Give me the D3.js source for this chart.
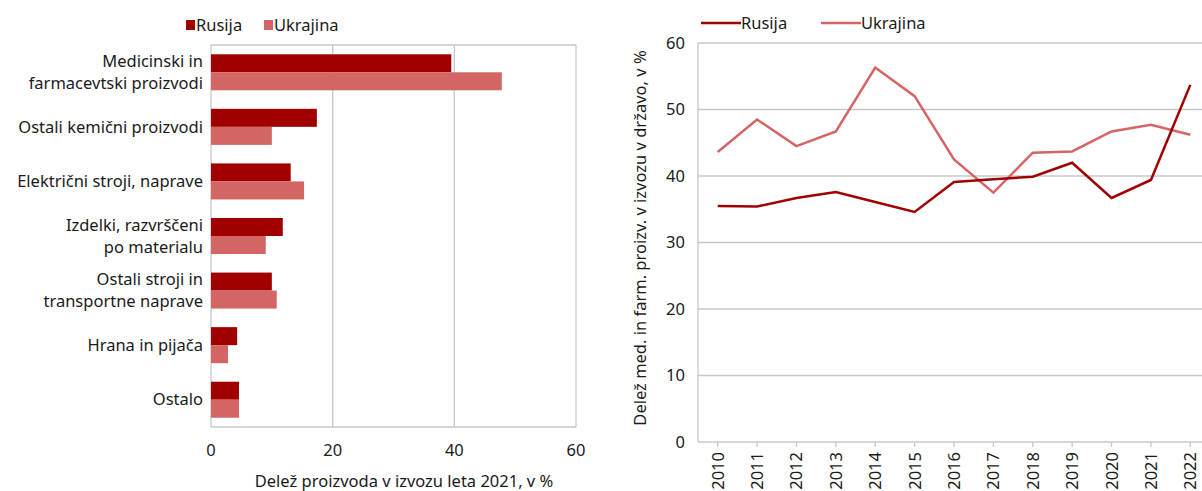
<!DOCTYPE html>
<html>
<head>
<meta charset="utf-8">
<script src="https://cdn.jsdelivr.net/npm/d3@7"></script>
<style>
  body { margin: 0; background: #fff; }
  svg { font-family: "Noto Sans", sans-serif; }
</style>
</head>
<body>
<div id="chart"></div>
<script>
// Left chart data
const categories = [
    ["Medicinski in", "farmacevtski proizvodi"],
    ["Ostali kemični proizvodi"],
    ["Električni stroji, naprave"],
    ["Izdelki, razvrščeni", "po materialu"],
    ["Ostali stroji in", "transportne naprave"],
    ["Hrana in pijača"],
    ["Ostalo"]
];
const barRusija = [39.5, 17.4, 13.1, 11.8, 10.0, 4.3, 4.6];
const barUkrajina = [47.8, 10.0, 15.3, 9.0, 10.8, 2.8, 4.6];
const barTicks = [0, 20, 40, 60];

// Right chart data
const years = ["2010", "2011", "2012", "2013", "2014", "2015", "2016", "2017", "2018", "2019", "2020", "2021", "2022"];
const lineRusija = [35.5, 35.4, 36.7, 37.6, 36.1, 34.6, 39.1, 39.5, 39.9, 42.0, 36.7, 39.4, 53.7];
const lineUkrajina = [43.6, 48.5, 44.5, 46.7, 56.3, 52.0, 42.5, 37.5, 43.5, 43.7, 46.7, 47.7, 46.2];
const lineTicks = [0, 10, 20, 30, 40, 50, 60];

const colRus = "#a00000";
const colUkr = "#d46565";
const gridCol = "#c8c8c8";
const fs = 16.5;
const txtCol = "#1a1a1a";

const svg = d3.select("#chart").append("svg")
    .attr("width", 1202).attr("height", 491);

// ---------- Left: horizontal bars ----------
const L = { left: 211, right: 576, top: 45, bottom: 427 };
const x = d3.scaleLinear().domain([0, 60]).range([L.left, L.right]);
const y = d3.scaleBand().domain(d3.range(categories.length)).range([L.top, L.bottom]).paddingInner(0.34).paddingOuter(0.17);

const gl = svg.append("g");
gl.selectAll(".vgrid").data(barTicks.slice(1)).enter().append("line")
    .attr("x1", d => x(d)).attr("x2", d => x(d))
    .attr("y1", L.top).attr("y2", L.bottom)
    .attr("stroke", gridCol).attr("stroke-width", 1.3);
[L.top, L.bottom].forEach(yy => {
    gl.append("line").attr("x1", L.left).attr("x2", L.right).attr("y1", yy).attr("y2", yy)
        .attr("stroke", gridCol).attr("stroke-width", 1.3);
});
gl.append("line").attr("x1", L.left).attr("x2", L.left).attr("y1", L.top).attr("y2", L.bottom)
    .attr("stroke", gridCol).attr("stroke-width", 1.3);

const bh = y.bandwidth() / 2;
gl.selectAll(".bR").data(barRusija).enter().append("rect")
    .attr("x", x(0)).attr("y", (d, i) => y(i))
    .attr("width", d => x(d) - x(0)).attr("height", bh)
    .attr("fill", colRus);
gl.selectAll(".bU").data(barUkrajina).enter().append("rect")
    .attr("x", x(0)).attr("y", (d, i) => y(i) + bh)
    .attr("width", d => x(d) - x(0)).attr("height", bh)
    .attr("fill", colUkr);

// category labels
categories.forEach((lines, i) => {
    const cy = y(i) + y.bandwidth() / 2;
    const t = gl.append("text").attr("text-anchor", "end")
        .attr("font-size", fs).attr("fill", txtCol);
    lines.forEach((ln, j) => {
        t.append("tspan").attr("x", 203)
            .attr("y", cy + (j - (lines.length - 1) / 2) * 22)
            .attr("dy", "0.35em").text(ln);
    });
});

gl.selectAll(".xt").data(barTicks).enter().append("text")
    .attr("x", d => x(d)).attr("y", 456).attr("text-anchor", "middle")
    .attr("font-size", fs).attr("fill", txtCol).text(d => d);
gl.append("text").attr("x", 404).attr("y", 487).attr("text-anchor", "middle")
    .attr("font-size", fs).attr("fill", txtCol)
    .text("Delež proizvoda v izvozu leta 2021, v %");

// left legend
const legL = [["Rusija", colRus, 186], ["Ukrajina", colUkr, 264]];
legL.forEach(([name, c, lx]) => {
    gl.append("rect").attr("x", lx).attr("y", 20).attr("width", 9).attr("height", 10).attr("fill", c);
    gl.append("text").attr("x", lx + 10).attr("y", 25).attr("dy", "0.35em")
        .attr("font-size", fs).attr("fill", txtCol).text(name);
});

// ---------- Right: lines ----------
const R = { left: 698, right: 1210, top: 43, bottom: 442 };
const xr = d3.scalePoint().domain(years).range([R.left, R.right]).padding(0.5);
const yr = d3.scaleLinear().domain([0, 60]).range([R.bottom, R.top]);

const gr = svg.append("g");
gr.selectAll(".hgrid").data(lineTicks).enter().append("line")
    .attr("x1", R.left).attr("x2", 1202)
    .attr("y1", d => yr(d)).attr("y2", d => yr(d))
    .attr("stroke", gridCol).attr("stroke-width", 1.3);
gr.append("line").attr("x1", R.left).attr("x2", R.left).attr("y1", R.top).attr("y2", R.bottom)
    .attr("stroke", gridCol).attr("stroke-width", 1.3);
gr.selectAll(".xtick").data(years).enter().append("line")
    .attr("x1", d => xr(d)).attr("x2", d => xr(d))
    .attr("y1", R.bottom).attr("y2", R.bottom + 5)
    .attr("stroke", gridCol).attr("stroke-width", 1.3);

gr.selectAll(".yt").data(lineTicks).enter().append("text")
    .attr("x", 685).attr("y", d => yr(d)).attr("dy", "0.35em").attr("text-anchor", "end")
    .attr("font-size", fs).attr("fill", txtCol).text(d => d);
gr.selectAll(".yl").data(years).enter().append("text")
    .attr("transform", d => `translate(${xr(d) + 6},452) rotate(-90)`)
    .attr("text-anchor", "end")
    .attr("font-size", fs).attr("fill", txtCol).text(d => d);
gr.append("text")
    .attr("transform", "translate(646,238) rotate(-90)")
    .attr("text-anchor", "middle")
    .attr("font-size", fs).attr("fill", txtCol)
    .text("Delež med. in farm. proizv. v izvozu v državo, v %");

const line = d3.line().x((d, i) => xr(years[i])).y(d => yr(d));
gr.append("path").datum(lineUkrajina).attr("d", line)
    .attr("fill", "none").attr("stroke", colUkr).attr("stroke-width", 2.5);
gr.append("path").datum(lineRusija).attr("d", line)
    .attr("fill", "none").attr("stroke", colRus).attr("stroke-width", 2.5);

// right legend
const legR = [["Rusija", colRus, 701], ["Ukrajina", colUkr, 821]];
legR.forEach(([name, c, lx]) => {
    gr.append("line").attr("x1", lx).attr("x2", lx + 40).attr("y1", 23).attr("y2", 23)
        .attr("stroke", c).attr("stroke-width", 2.5);
    gr.append("text").attr("x", lx + 40).attr("y", 23).attr("dy", "0.35em")
        .attr("font-size", fs).attr("fill", txtCol).text(name);
});
</script>
</body>
</html>
